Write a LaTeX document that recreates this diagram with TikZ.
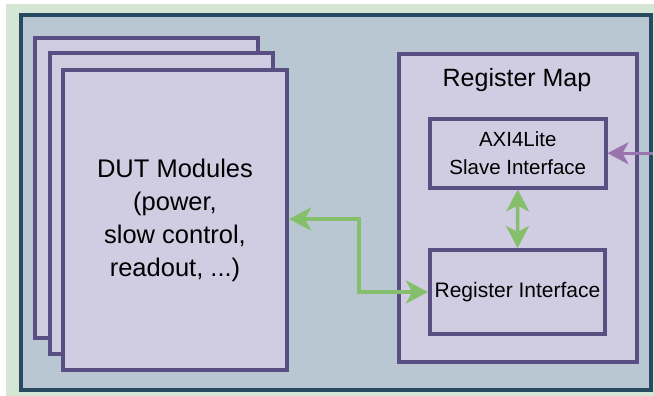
\documentclass[tikz,border=0pt]{standalone}
\usepackage{fontspec}
\setmainfont{Liberation Sans}
\usetikzlibrary{arrows.meta}
\definecolor{bggreen}{HTML}{D6E6D4}
\definecolor{outerfill}{HTML}{B8C7D1}
\definecolor{outerline}{HTML}{274A60}
\definecolor{boxfill}{HTML}{D0CDE2}
\definecolor{boxline}{HTML}{5A4F82}
\definecolor{arrgreen}{HTML}{86BF6C}
\definecolor{arrpurple}{HTML}{9B74AD}
\begin{document}
\begin{tikzpicture}[x=1pt,y=-1pt,
  box/.style={draw=boxline, fill=boxfill, line width=4pt, inner sep=0pt, align=center, text=black},
  greenarrow/.style={draw=arrgreen, line width=3.5pt, {Stealth[length=22pt,width=23pt,inset=6pt]}-{Stealth[length=22pt,width=23pt,inset=6pt]}},
  purplearrow/.style={draw=arrpurple, line width=3.5pt, -{Stealth[length=21pt,width=22pt,inset=6pt]}}]
\useasboundingbox (0,0) rectangle (654,396);
\fill[white] (0,0) rectangle (654,396);
\fill[bggreen] (6,4) rectangle (654,396);
\node[draw=outerline, fill=outerfill, line width=4pt, inner sep=0pt,
      minimum width=629.5pt, minimum height=374.5pt] (outer) at (335.75,202.75) {};
% stacked DUT modules
\node[box, minimum width=223pt, minimum height=300pt] (dutback) at (146.5,188) {};
\node[box, minimum width=223.5pt, minimum height=300.7pt] (dutmid) at (161.25,203.35) {};
\node[box, minimum width=224pt, minimum height=299.7pt,
      font=\fontsize{25.5}{33}\selectfont] (dut) at (175,220)
      {DUT Modules\\(power,\\slow control,\\readout, ...)};
% register map
\node[box, minimum width=238pt, minimum height=308pt] (regmap) at (518,208) {};
\node[anchor=base, font=\fontsize{25}{28}\selectfont, text=black, inner sep=0pt] (regmaplabel) at (517,86.5) {Register Map};
\node[box, minimum width=175.5pt, minimum height=68.5pt,
      font=\fontsize{20.5}{28}\selectfont] (axi) at (517.75,153.25)
      {AXI4Lite\\Slave Interface};
\node[box, minimum width=175pt, minimum height=84pt,
      font=\fontsize{21}{28}\selectfont] (regint) at (517.5,292)
      {Register Interface};
% connectors
\draw[greenarrow] (dut.east |- 0,219) -- (359,219) |- (regint.west);
\draw[greenarrow] (axi.south) -- (regint.north);
\coordinate (axiin) at (outer.east |- axi.east);
\draw[purplearrow] (axiin) -- (axi.east);
\end{tikzpicture}
\end{document}
